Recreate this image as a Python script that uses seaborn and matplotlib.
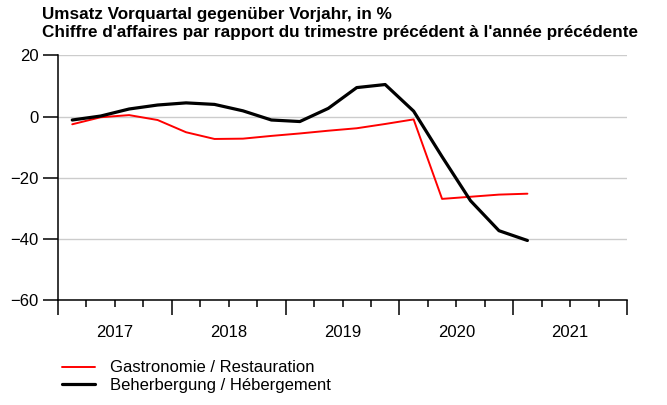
import numpy as np
import pandas as pd
import matplotlib
matplotlib.use("Agg")
import matplotlib.pyplot as plt
import seaborn as sns

# Quarterly data, 2017 Q1 .. 2021 Q1
quarters = ["2017Q1", "2017Q2", "2017Q3", "2017Q4",
            "2018Q1", "2018Q2", "2018Q3", "2018Q4",
            "2019Q1", "2019Q2", "2019Q3", "2019Q4",
            "2020Q1", "2020Q2", "2020Q3", "2020Q4",
            "2021Q1"]
gastro = [-2.5, -0.2, 0.5, -1.1, -5.1, -7.3, -7.2, -6.3, -5.5,
          -4.6, -3.8, -2.4, -0.9, -26.9, -26.2, -25.5, -25.2]
hotel = [-1.1, 0.2, 2.5, 3.8, 4.5, 4.0, 1.9, -1.1, -1.6,
         2.7, 9.5, 10.5, 1.8, -13.1, -27.5, -37.3, -40.5]
series_names = ["Gastronomie / Restauration", "Beherbergung / Hébergement"]
years = [2017, 2018, 2019, 2020, 2021]
title_lines = ["Umsatz Vorquartal gegenüber Vorjahr, in %",
               "Chiffre d'affaires par rapport du trimestre précédent à l'année précédente"]

# position each quarter at its middle
pos = [int(q[:4]) + (int(q[-1]) - 0.5) / 4 for q in quarters]
df = pd.DataFrame({
    "x": pos * 2,
    "value": gastro + hotel,
    "series": [series_names[0]] * len(pos) + [series_names[1]] * len(pos),
})

sns.set_style("ticks")
plt.rcParams["font.family"] = ["Liberation Sans", "DejaVu Sans"]
plt.rcParams["text.color"] = "black"
plt.rcParams["xtick.labelcolor"] = "black"
plt.rcParams["ytick.labelcolor"] = "black"

fig = plt.figure(figsize=(6.67, 4.05), dpi=100)
ax = fig.add_axes([0.087, 0.259, 0.853, 0.604])

sns.lineplot(data=df, x="x", y="value", hue="series", size="series",
             palette={series_names[0]: "#ff0000", series_names[1]: "#000000"},
             sizes={series_names[0]: 1.4, series_names[1]: 2.3},
             legend=False, ax=ax)

ax.set_xlim(2017, 2022)
ax.set_ylim(-60, 20)
ax.set_yticks([20, 0, -20, -40, -60])
ax.set_yticklabels(["20", "0", "\u221220", "\u221240", "\u221260"], fontsize=12)
ax.yaxis.grid(True, color="#cccccc", lw=1.0)
ax.set_axisbelow(True)

ax.set_xticks(years + [2022])
ax.set_xticklabels([""] * (len(years) + 1))
minor = [y + q / 4 for y in years for q in (1, 2, 3)]
ax.set_xticks(minor, minor=True)
ax.set_xticklabels([str(y) if q == 2 else "" for y in years for q in (1, 2, 3)],
                   minor=True, fontsize=12)
ax.tick_params(axis="x", which="major", direction="out", length=11, width=1.1,
               color="black", labelcolor="black", bottom=True)
ax.tick_params(axis="x", which="minor", direction="out", length=5, width=1.1,
               color="black", labelcolor="black", bottom=True, pad=13)
ax.tick_params(axis="y", direction="out", length=11, width=1.1, color="black",
               labelcolor="black", left=True, pad=3)
ax.set_xlabel("")
ax.set_ylabel("")

for side in ["top", "right"]:
    ax.spines[side].set_visible(False)
for side in ["left", "bottom"]:
    ax.spines[side].set_color("black")
    ax.spines[side].set_linewidth(1.1)

fig.text(0.063, 0.953, title_lines[0], fontsize=12.3, fontweight="bold",
         va="baseline", color="black")
fig.text(0.063, 0.909, title_lines[1], fontsize=12.3, fontweight="bold",
         va="baseline", color="black")

handles = [plt.Line2D([], [], color="#ff0000", lw=1.4),
           plt.Line2D([], [], color="#000000", lw=2.3)]
leg = fig.legend(handles, series_names, loc="upper left", bbox_to_anchor=(0.093, 0.11),
                 frameon=False, fontsize=12, handlelength=2.0, handletextpad=0.85,
                 labelspacing=0.17, borderpad=0, borderaxespad=0)
for t in leg.get_texts():
    t.set_color("black")

fig.savefig("out.png", dpi=100)
